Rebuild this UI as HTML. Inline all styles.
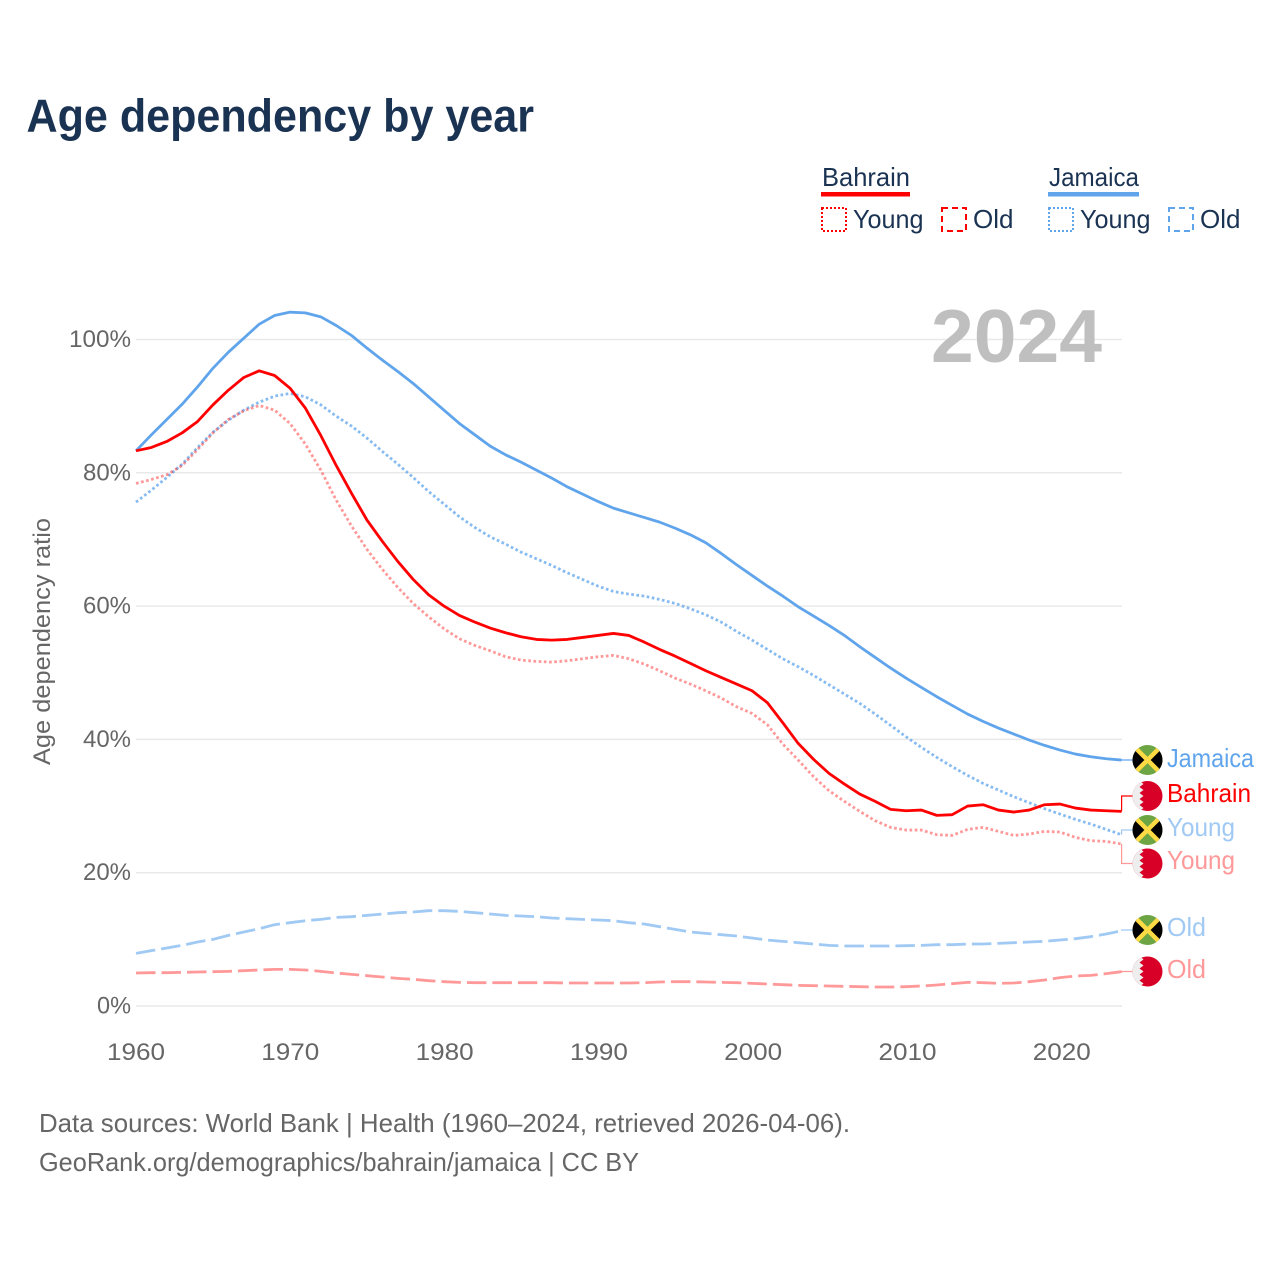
<!DOCTYPE html>
<html lang="en">
<head>
<meta charset="utf-8">
<title>Age dependency by year</title>
<style>
html,body{margin:0;padding:0;background:#fff;width:1280px;height:1280px;overflow:hidden}
svg{display:block}
text{font-family:"Liberation Sans",sans-serif}
</style>
</head>
<body>
<svg id="chart" xmlns="http://www.w3.org/2000/svg" width="1280" height="1280" viewBox="0 0 1280 1280">
  <defs>
    <clipPath id="flag-clip"><circle cx="0" cy="0" r="15"/></clipPath>
    <g id="flag-jm" clip-path="url(#flag-clip)">
      <rect x="-15" y="-15" width="30" height="30" fill="#6da544"/>
      <path d="M-15 -15L0 0L-15 15Z M15 -15L0 0L15 15Z" fill="#000"/>
      <path d="M-15 -15L15 15M15 -15L-15 15" stroke="#ffda44" stroke-width="4.5" fill="none"/>
    </g>
    <g id="flag-bh" clip-path="url(#flag-clip)">
      <rect x="-15" y="-15" width="30" height="30" fill="#d80027"/>
      <path d="M-15 -15H-7.5L-4 -12L-8 -9L-4 -6L-8 -3L-4 0L-8 3L-4 6L-8 9L-4 12L-7.5 15H-15Z" fill="#eeeeee"/>
    </g>
  </defs>

  <rect width="1280" height="1280" fill="#fff"/>
  <text x="26.5" y="131.5" font-size="46" font-weight="700" fill="#1a3353" textLength="507.5" lengthAdjust="spacingAndGlyphs">Age dependency by year</text>

  <g font-size="26" fill="#1a3353">
    <text x="822" y="186" textLength="88" lengthAdjust="spacingAndGlyphs">Bahrain</text>
    <rect x="821" y="192" width="89" height="4.5" fill="#ff0000"/>
    <rect x="822" y="208" width="24" height="23" fill="none" stroke="#ff0000" stroke-width="2" stroke-dasharray="2 2"/>
    <text x="853" y="228" textLength="70.5" lengthAdjust="spacingAndGlyphs">Young</text>
    <rect x="942" y="208" width="24" height="23" fill="none" stroke="#ff0000" stroke-width="2" stroke-dasharray="6 4"/>
    <text x="973" y="228" textLength="40.5" lengthAdjust="spacingAndGlyphs">Old</text>
    <text x="1049" y="186" textLength="90" lengthAdjust="spacingAndGlyphs">Jamaica</text>
    <rect x="1048" y="192" width="91" height="4.5" fill="#60a5ec"/>
    <rect x="1049" y="208" width="24" height="23" fill="none" stroke="#60a5ec" stroke-width="2" stroke-dasharray="2 2"/>
    <text x="1080" y="228" textLength="70.5" lengthAdjust="spacingAndGlyphs">Young</text>
    <rect x="1169" y="208" width="24" height="23" fill="none" stroke="#60a5ec" stroke-width="2" stroke-dasharray="6 4"/>
    <text x="1200" y="228" textLength="40.5" lengthAdjust="spacingAndGlyphs">Old</text>
  </g>

  <g id="grid"></g>
  <text x="931" y="362" font-size="75" font-weight="700" fill="#bfbfbf" textLength="171" lengthAdjust="spacingAndGlyphs">2024</text>
  <g id="y-ticks" font-size="24" fill="#666"></g>
  <g id="x-ticks" font-size="24" fill="#666"></g>
  <text transform="translate(50,765) rotate(-90)" font-size="24" fill="#666" textLength="247" lengthAdjust="spacingAndGlyphs">Age dependency ratio</text>
  <g id="leaders"></g>
  <g id="series"></g>

  <g font-size="26">
    <use href="#flag-jm" x="1147.5" y="760"/>
    <text x="1167" y="767" fill="#60a5ec" textLength="87" lengthAdjust="spacingAndGlyphs">Jamaica</text>
    <use href="#flag-bh" x="1147.5" y="796"/>
    <text x="1167" y="802" fill="#ff0000" textLength="84" lengthAdjust="spacingAndGlyphs">Bahrain</text>
    <use href="#flag-jm" x="1147.5" y="830"/>
    <text x="1167" y="836" fill="#a0c9f3" textLength="68" lengthAdjust="spacingAndGlyphs">Young</text>
    <use href="#flag-bh" x="1147.5" y="863.5"/>
    <text x="1167" y="869" fill="#ff9999" textLength="68" lengthAdjust="spacingAndGlyphs">Young</text>
    <use href="#flag-jm" x="1147.5" y="930"/>
    <text x="1167" y="936" fill="#a0c9f3" textLength="39" lengthAdjust="spacingAndGlyphs">Old</text>
    <use href="#flag-bh" x="1147.5" y="971.5"/>
    <text x="1167" y="978" fill="#ff9999" textLength="39" lengthAdjust="spacingAndGlyphs">Old</text>
  </g>

  <text x="39" y="1132" font-size="26" fill="#666" textLength="811" lengthAdjust="spacingAndGlyphs">Data sources: World Bank | Health (1960–2024, retrieved 2026-04-06).</text>
  <text x="39" y="1171" font-size="26" fill="#666" textLength="600" lengthAdjust="spacingAndGlyphs">GeoRank.org/demographics/bahrain/jamaica | CC BY</text>
</svg>

<script>
const firstYear = 1960;
const xTickLabels = [1960, 1970, 1980, 1990, 2000, 2010, 2020];
const yTickLabels = [0, 20, 40, 60, 80, 100];

const jamaicaTotal = [83.3,85.7,88,90.3,92.9,95.7,98.1,100.2,102.3,103.6,104.1,104,103.4,102.1,100.6,98.7,96.9,95.2,93.4,91.4,89.4,87.4,85.7,84,82.7,81.6,80.4,79.2,77.9,76.8,75.7,74.7,74,73.3,72.6,71.7,70.7,69.5,67.9,66.2,64.6,63,61.5,59.9,58.5,57.1,55.6,53.9,52.3,50.7,49.2,47.8,46.4,45.1,43.8,42.7,41.7,40.8,39.9,39.1,38.4,37.8,37.4,37.1,36.9];
const jamaicaYoung = [75.6,77.4,79.3,81.3,83.8,86.1,87.9,89.4,90.6,91.5,91.9,91.4,90.2,88.5,87,85.2,83.2,81.3,79.3,77.2,75.3,73.4,71.8,70.4,69.3,68.1,67.1,66.1,65,64,63,62.2,61.8,61.5,61,60.4,59.6,58.7,57.6,56.2,54.9,53.5,52.1,50.9,49.6,48.2,46.8,45.4,43.8,42.1,40.4,38.8,37.3,35.9,34.6,33.4,32.4,31.4,30.5,29.6,28.8,28,27.3,26.5,25.7];
const jamaicaOld = [7.9,8.3,8.7,9.1,9.6,10,10.6,11.1,11.6,12.2,12.5,12.8,13,13.3,13.4,13.6,13.8,14,14.1,14.3,14.3,14.2,14,13.8,13.6,13.5,13.4,13.2,13.1,13,12.9,12.8,12.5,12.3,11.9,11.5,11.1,10.9,10.7,10.5,10.2,9.9,9.7,9.5,9.3,9.1,9,9,9,9,9.05,9.1,9.2,9.2,9.3,9.3,9.4,9.5,9.6,9.7,9.9,10.1,10.4,10.8,11.3];
const bahrainTotal = [83.3,83.8,84.7,86,87.7,90.2,92.4,94.3,95.3,94.6,92.7,89.7,85.6,81.1,76.9,72.9,69.7,66.7,64,61.7,60,58.6,57.6,56.7,56,55.4,55,54.9,55,55.3,55.6,55.9,55.6,54.6,53.5,52.5,51.4,50.3,49.3,48.3,47.3,45.5,42.5,39.4,37,34.9,33.3,31.8,30.7,29.5,29.3,29.4,28.6,28.7,30,30.2,29.4,29.1,29.4,30.2,30.3,29.7,29.4,29.3,29.2];
const bahrainYoung = [78.4,79,79.7,81.1,83.5,86,88,89.3,90.1,89.4,87.4,84.3,80.4,75.9,72,68.5,65.5,62.8,60.4,58.4,56.6,55.1,54.1,53.3,52.4,51.9,51.7,51.6,51.8,52.1,52.4,52.6,52.1,51.3,50.3,49.2,48.3,47.3,46.2,44.9,43.9,42.2,39.3,36.9,34.4,32.3,30.7,29.2,27.8,26.8,26.4,26.4,25.7,25.6,26.5,26.8,26.2,25.6,25.8,26.2,26.1,25.3,24.8,24.7,24.3];
const bahrainOld = [4.95,5,5,5.05,5.1,5.15,5.2,5.3,5.4,5.5,5.5,5.4,5.2,4.95,4.75,4.55,4.35,4.15,4,3.8,3.65,3.55,3.5,3.5,3.5,3.5,3.5,3.5,3.45,3.45,3.45,3.45,3.45,3.5,3.6,3.65,3.65,3.6,3.55,3.5,3.4,3.3,3.2,3.1,3.05,3,2.95,2.9,2.85,2.85,2.9,3,3.15,3.35,3.55,3.5,3.4,3.45,3.65,3.9,4.25,4.5,4.6,4.85,5.15];

const NS = 'http://www.w3.org/2000/svg';
const xScale = function (year) { return 136 + (year - firstYear) * 15.4; };
const xTickScale = function (year) { return 136 + (year - firstYear) * 15.43; };
const yScale = function (value) { return 1006 - value * 6.665; };

function make(tag, attrs, parent) {
  const el = document.createElementNS(NS, tag);
  Object.keys(attrs).forEach(function (k) { el.setAttribute(k, attrs[k]); });
  parent.appendChild(el);
  return el;
}

const gridGroup = document.getElementById('grid');
const yTickGroup = document.getElementById('y-ticks');
const xTickGroup = document.getElementById('x-ticks');
const leaderGroup = document.getElementById('leaders');
const seriesGroup = document.getElementById('series');

yTickLabels.forEach(function (v) {
  const line = make('line', { x1: 136, x2: 1122, y1: yScale(v), y2: yScale(v), stroke: '#e9e9e9', 'stroke-width': 1.5 }, gridGroup);
  
  
  const label = v + '%';
  const t = make('text', { x: 131, y: yScale(v) + 7.5, 'text-anchor': 'end', textLength: 14 * String(v).length + 20, lengthAdjust: 'spacingAndGlyphs' }, yTickGroup);
  t.textContent = label;
  
  
});

xTickLabels.forEach(function (yr) {
  const t = make('text', { x: xTickScale(yr), y: 1060, 'text-anchor': 'middle', textLength: 58, lengthAdjust: 'spacingAndGlyphs' }, xTickGroup);
  t.textContent = String(yr);
  
  
});

function drawSeries(values, color, opacity, dash, name) {
  const d = values.map(function (v, i) {
    return (i ? 'L' : 'M') + xScale(firstYear + i).toFixed(2) + ' ' + yScale(v).toFixed(2);
  }).join('');
  const p = make('path', { d: d, fill: 'none', stroke: color, 'stroke-opacity': opacity, 'stroke-width': 2.8, 'stroke-linejoin': 'round' }, seriesGroup);
  if (dash) p.setAttribute('stroke-dasharray', dash);
  
  
}

function drawLeader(values, labelY, color, opacity, name) {
  const endX = xScale(firstYear + values.length - 1);
  const endY = yScale(values[values.length - 1]);
  const d = 'M' + endX.toFixed(2) + ' ' + endY.toFixed(2) + 'V' + labelY + 'H1133';
  const p = make('path', { d: d, fill: 'none', stroke: color, 'stroke-opacity': opacity, 'stroke-width': 1.2 }, leaderGroup);
  
  
}

drawLeader(jamaicaTotal, 760, '#60a5ec', 1, 'leader-jamaica-total');
drawLeader(bahrainTotal, 796, '#ff0000', 1, 'leader-bahrain-total');
drawLeader(jamaicaYoung, 830, '#60a5ec', 0.6, 'leader-jamaica-young');
drawLeader(bahrainYoung, 863.5, '#ff0000', 0.4, 'leader-bahrain-young');
drawLeader(jamaicaOld, 930, '#60a5ec', 0.6, 'leader-jamaica-old');
drawLeader(bahrainOld, 971.5, '#ff0000', 0.4, 'leader-bahrain-old');

drawSeries(jamaicaOld, '#60a5ec', 0.6, '19.5 6', 'line-jamaica-old');
drawSeries(bahrainOld, '#ff0000', 0.4, '19.5 6', 'line-bahrain-old');
drawSeries(jamaicaYoung, '#60a5ec', 0.75, '2.7 2.5', 'line-jamaica-young');
drawSeries(bahrainYoung, '#ff0000', 0.4, '2.7 2.5', 'line-bahrain-young');
drawSeries(jamaicaTotal, '#60a5ec', 1, null, 'line-jamaica-total');
drawSeries(bahrainTotal, '#ff0000', 1, null, 'line-bahrain-total');
</script>
</body>
</html>
